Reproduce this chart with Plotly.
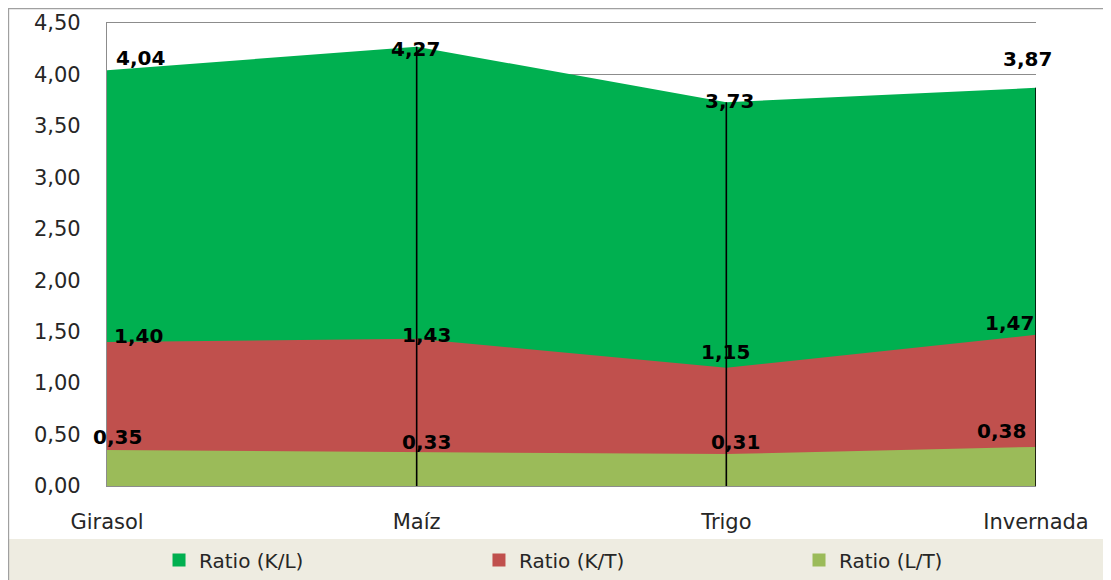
import plotly.graph_objects as go

# ---- data ----
categories = ["Girasol", "Maíz", "Trigo", "Invernada"]
ratio_kl = [4.04, 4.27, 3.73, 3.87]
ratio_kt = [1.40, 1.43, 1.15, 1.47]
ratio_lt = [0.35, 0.33, 0.31, 0.38]
series_names = ["Ratio (K/L)", "Ratio (K/T)", "Ratio (L/T)"]
y_ticks = [0, 0.5, 1.0, 1.5, 2.0, 2.5, 3.0, 3.5, 4.0, 4.5]

# ---- style ----
colors = ["#00B050", "#C0504D", "#9BBB59"]
# pixel offsets of data labels relative to their point (x, y-up)
label_shift = [
    [(33, 12), (-1, -2), (3, 1), (-9, 29)],
    [(31, 6), (10, 4), (-1, 16), (-27, 12)],
    [(10, 13), (10, 10), (9, 12), (-35, 16)],
]
legend_x = [0.056, 0.4004, 0.7449]
FONT = "DejaVu Sans"
TXT = "#262626"
xs = list(range(len(categories)))
series = [ratio_kl, ratio_kt, ratio_lt]

fig = go.Figure()

for vals, name, col in zip(series, series_names, colors):
    fig.add_trace(go.Scatter(
        x=xs, y=vals, mode="lines", fill="tozeroy",
        fillcolor=col, line=dict(width=0, color=col),
        showlegend=False, hoverinfo="skip",
    ))

# drop lines (from highest series to the axis)
dx, dy = [], []
for i in xs[1:]:
    dx += [i, i, None]
    dy += [0, max(s[i] for s in series), None]
fig.add_trace(go.Scatter(x=dx, y=dy, mode="lines",
                         line=dict(color="black", width=1.6),
                         showlegend=False, hoverinfo="skip"))

# legend entries (one legend each, so spacing matches the original)
legend_ids = ["legend", "legend2", "legend3"]
for name, col, lid in zip(series_names, colors, legend_ids):
    fig.add_trace(go.Scatter(
        x=[None], y=[None], mode="markers", name=name, legend=lid,
        marker=dict(symbol="square", size=13, color=col),
    ))

# data labels
annotations = []
for s_idx, vals in enumerate(series):
    for i, v in enumerate(vals):
        sx, sy = label_shift[s_idx][i]
        annotations.append(dict(
            x=xs[i], y=v, xref="x", yref="y",
            text=f"{v:.2f}".replace(".", ","),
            showarrow=False, xanchor="center", yanchor="middle",
            xshift=sx, yshift=sy,
            font=dict(family=FONT, size=20, color="black", weight="bold"),
        ))

shapes = [
    # legend band
    dict(type="rect", xref="paper", yref="paper",
         x0=-0.1066, x1=1.1, y0=-0.25, y1=-0.1145,
         fillcolor="#EEECE1", line=dict(width=0), layer="below"),
    # outer chart border
    dict(type="rect", xref="paper", yref="paper",
         x0=-0.1060, x1=1.1, y0=-0.25, y1=1.0310,
         fillcolor="rgba(0,0,0,0)", line=dict(color="#A0A0A0", width=1.3),
         layer="above"),
]

legend_common = dict(orientation="h", xanchor="left", yanchor="middle",
                     y=-0.1598, bgcolor="rgba(0,0,0,0)", itemwidth=30,
                     font=dict(family=FONT, size=20, color=TXT))

fig.update_layout(
    width=1103, height=572,
    margin=dict(l=99, r=75, t=15, b=94, autoexpand=False),
    paper_bgcolor="white", plot_bgcolor="white",
    separators=",.",
    font=dict(family=FONT, size=21, color=TXT),
    showlegend=True,
    legend=dict(x=legend_x[0], **legend_common),
    legend2=dict(x=legend_x[1], **legend_common),
    legend3=dict(x=legend_x[2], **legend_common),
    annotations=annotations,
    shapes=shapes,
    xaxis=dict(
        range=[0, len(categories) - 1], tickmode="array",
        tickvals=xs, ticktext=categories, showgrid=False, zeroline=False,
        showline=True, mirror=True, linecolor="#8C8C8C", linewidth=1.3,
        ticks="", ticklabelstandoff=17, automargin=False,
    ),
    yaxis=dict(
        range=[0, 4.5], tickmode="array", tickvals=y_ticks, tickformat=".2f",
        showgrid=True, gridcolor="#8C8C8C", gridwidth=1.3, zeroline=False,
        showline=True, linecolor="#8C8C8C", linewidth=1.3,
        ticks="", ticklabelstandoff=21, automargin=False,
    ),
)

fig.write_html("out.html")
